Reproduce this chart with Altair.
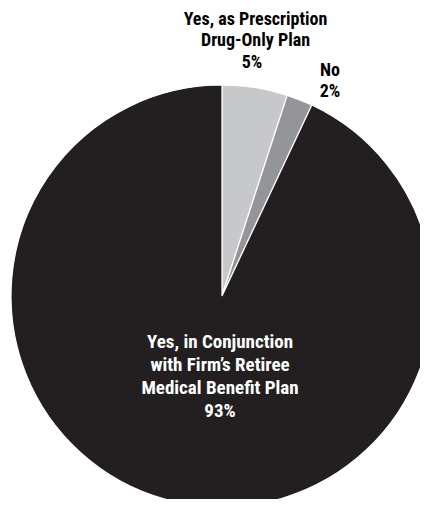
import altair as alt
import pandas as pd

categories = ["Yes, as Prescription Drug-Only Plan", "No",
              "Yes, in Conjunction with Firm's Retiree Medical Benefit Plan"]
values = [5, 2, 93]
colors = ["#c7c8ca", "#939598", "#231f20"]
order = [1, 2, 3]

label_drug = ["Yes, as Prescription", "Drug-Only Plan"]
label_no = ["No"]
label_conj = ["Yes, in Conjunction", "with Firm\u2019s Retiree", "Medical Benefit Plan"]

df = pd.DataFrame({"category": categories, "value": values, "order": order})

FONT = "Liberation Sans Narrow, Arial Narrow, Roboto Condensed, Roboto, sans-serif"

pie = alt.Chart(df).mark_arc(stroke="white", strokeWidth=1.2).encode(
    theta=alt.Theta("value:Q", stack=True),
    order=alt.Order("order:Q"),
    color=alt.Color("category:N", scale=alt.Scale(domain=categories, range=colors), legend=None),
    x=alt.value(214),
    y=alt.value(288),
    radius=alt.value(211),
)

def text_layer(lines, x, y, size, color, line_height):
    d = pd.DataFrame({"t": ["\n".join(lines)]})
    return alt.Chart(d).mark_text(
        font=FONT, fontWeight="bold", fontSize=size, color=color,
        align="center", baseline="alphabetic", lineBreak="\n", lineHeight=line_height,
    ).encode(text="t:N", x=alt.value(x), y=alt.value(y))

def pct(v):
    return f"{v}%"

layers = [
    pie,
    text_layer(label_drug, 247.5, 16.5, 18, "black", 21.5),
    text_layer([pct(values[0])], 244, 60, 18, "black", 22),
    text_layer(label_no + [pct(values[1])], 322, 68, 18, "black", 21),
    text_layer(label_conj + [pct(values[2])], 212, 340, 19, "white", 23),
]

chart = alt.layer(*layers).properties(
    width=412, height=491, padding=0, autosize=alt.AutoSizeParams(type="none")
).configure_view(stroke=None)

chart.save("out.html", embed_options={"renderer": "svg", "actions": False})
